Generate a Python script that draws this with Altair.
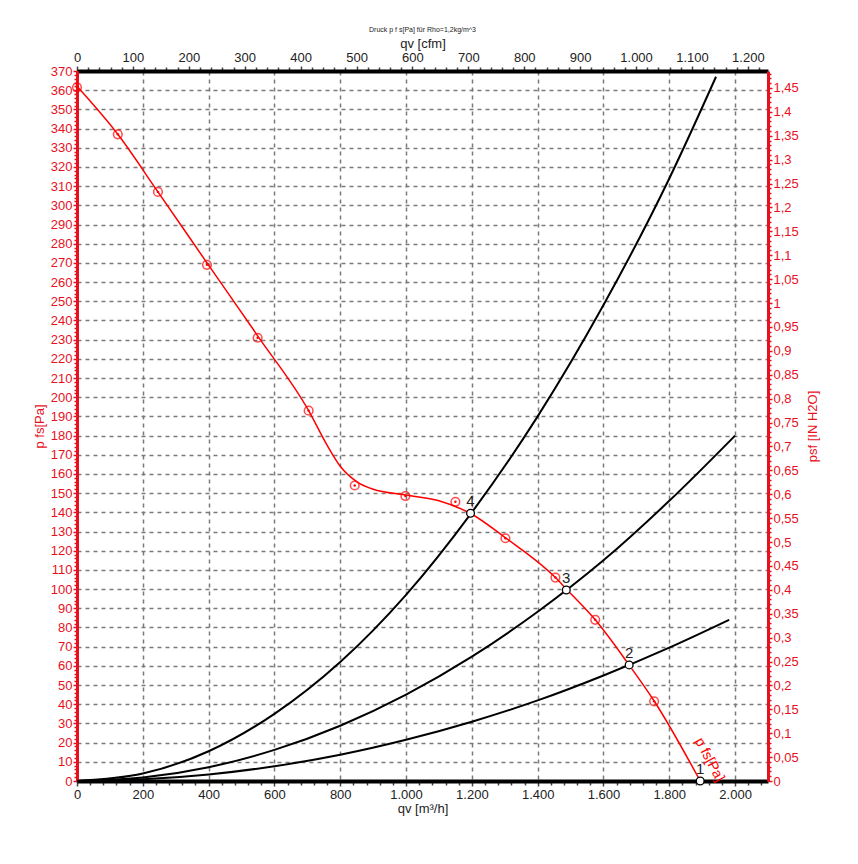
import altair as alt
import pandas as pd

FONT = "Liberation Sans"
RED = "#e8101e"
LINE_RED = "#ff0000"

# ---- data ----
X_MAX = 2100          # m3/h
Y_MAX = 370           # Pa
M3H_PER_CFM = 1.699
PA_PER_INH2O = 249.09

# fan curve (smooth line)
fan_x = [0, 124, 246, 395, 549, 704, 760, 800, 850, 900, 1000, 1100, 1200, 1300, 1454, 1490, 1575, 1678, 1754, 1894]
fan_y = [362, 337, 307, 270, 232, 193, 175, 164, 156, 152, 149, 146, 139, 127, 106, 99.5, 84, 60.4, 41.7, 0]

# measured points (red markers)
meas_x = [0, 124, 246, 395, 549, 704, 844, 998, 1150, 1302, 1454, 1575, 1754]
meas_y = [361.5, 337, 307, 269, 231, 193, 154, 148.5, 145.5, 126.5, 106, 84, 41.5]

# system curves
sys4_x = [0, 200, 400, 600, 800, 1000, 1200, 1400, 1600, 1800, 1942]
sys4_y = [0, 3.9, 15.5, 35, 62, 97, 140, 190, 248, 314, 367]
sys3_x = [0, 200, 400, 600, 800, 1000, 1200, 1400, 1600, 1800, 2000]
sys3_y = [0, 1.8, 7.2, 16.2, 28.8, 45, 64.8, 88.2, 115, 146, 180]
sys2_x = [0, 200, 400, 600, 800, 1000, 1200, 1400, 1600, 1800, 1982]
sys2_y = [0, 0.86, 3.4, 7.7, 13.7, 21.5, 30.9, 42, 55, 69.5, 84]

# operating points
op_x = [1894, 1678, 1487, 1196]
op_y = [0, 60.5, 99.5, 139.5]
op_lab = ["1", "2", "3", "4"]

curve_label = "p  fs[Pa]"
curve_label_x = [1922]
curve_label_y = [11]

# axis tick values
x_ticks = list(range(0, 2081, 40))
y_ticks = list(range(0, 371, 2))
cfm_ticks = list(range(0, 1221, 20))
inh2o_ticks = [round(i * 0.01, 2) for i in range(0, 149)]

# ---- tables ----
fan_df = pd.DataFrame({"q": fan_x, "p": fan_y})
meas_df = pd.DataFrame({"q": meas_x, "p": meas_y})
sys_df = pd.concat([
    pd.DataFrame({"q": sys4_x, "p": sys4_y, "s": "4"}),
    pd.DataFrame({"q": sys3_x, "p": sys3_y, "s": "3"}),
    pd.DataFrame({"q": sys2_x, "p": sys2_y, "s": "2"}),
])
op_df = pd.DataFrame({"q": op_x, "p": op_y, "lab": op_lab})
lab_df = pd.DataFrame({"q": curve_label_x, "p": curve_label_y, "t": [curve_label]})

xs = alt.Scale(domain=[0, X_MAX], nice=False, zero=False)
ys = alt.Scale(domain=[0, Y_MAX], nice=False, zero=False)

x_axis = alt.Axis(
    values=x_ticks, orient="bottom", title="qv [m³/h]",
    labelExpr="datum.value % 200 === 0 ? replace(format(datum.value, ','), ',', '.') : ''",
    labelOverlap=False, labelFlush=False, labelFont=FONT, labelFontSize=13, labelColor="#222",
    labelPadding=2,
    titleFont=FONT, titleFontSize=13, titleFontWeight="normal", titleColor="#222", titlePadding=1,
    domainColor="black", domainWidth=4, tickColor="#444", tickWidth=1.5,
    tickSize={"condition": {"test": "datum.value % 200 === 0", "value": 5}, "value": 4},
    grid=True, gridColor="#7a7a7a", gridDash=[4, 4], gridWidth=1.5,
    gridOpacity={"condition": {"test": "datum.value % 200 === 0 && datum.value > 0", "value": 1}, "value": 0},
)
y_axis = alt.Axis(
    values=y_ticks, orient="left", title="p  fs[Pa]",
    labelExpr="datum.value % 10 === 0 ? datum.label : ''",
    labelOverlap=False, labelFont=FONT, labelFontSize=13, labelColor=RED, labelPadding=1,
    titleFont=FONT, titleFontSize=13, titleFontWeight="normal", titleColor=RED, titlePadding=4,
    domainColor=RED, domainWidth=3, tickColor=RED, tickWidth=1.5,
    tickSize={"condition": {"test": "datum.value % 10 === 0", "value": 4}, "value": 3},
    grid=True, gridColor="#7a7a7a", gridDash=[4, 4], gridWidth=1.5,
    gridOpacity={"condition": {"test": "datum.value % 10 === 0 && datum.value > 0 && datum.value < 370", "value": 1}, "value": 0},
)

X = alt.X("q:Q", scale=xs, axis=x_axis)
Y = alt.Y("p:Q", scale=ys, axis=y_axis)

sys_lines = alt.Chart(sys_df).mark_line(color="black", strokeWidth=2, interpolate="monotone").encode(
    x=X, y=Y, detail="s:N"
)

fan_line = alt.Chart(fan_df).mark_line(color=LINE_RED, strokeWidth=1.5, interpolate="monotone").encode(
    x=X, y=Y
)

meas_ring = alt.Chart(meas_df).mark_point(
    shape="circle", filled=False, color=LINE_RED, size=75, strokeWidth=1.5
).encode(x=X, y=Y)
meas_dot = alt.Chart(meas_df).mark_point(
    shape="circle", filled=True, color=LINE_RED, size=6, opacity=1
).encode(x=X, y=Y)

op_pts = alt.Chart(op_df).mark_point(
    shape="circle", filled=True, fill="white", stroke="black", strokeWidth=1.3, size=60, opacity=1
).encode(x=X, y=Y)
op_text = alt.Chart(op_df).mark_text(
    font=FONT, fontSize=15, color="#222", dy=-12
).encode(x=X, y=Y, text="lab:N")

curve_text = alt.Chart(lab_df).mark_text(
    font=FONT, fontSize=14, color=LINE_RED, angle=62
).encode(x=X, y=Y, text="t:N")

main = alt.layer(sys_lines, fan_line, meas_ring, meas_dot, op_pts, op_text, curve_text)

# secondary axes (cfm on top, inH2O on right)
sec_df = pd.DataFrame({"cfm": [0, X_MAX / M3H_PER_CFM], "inh2o": [0, Y_MAX / PA_PER_INH2O]})
top_axis = alt.Axis(
    values=cfm_ticks, orient="top", title="qv [cfm]",
    labelExpr="datum.value % 100 === 0 ? replace(format(datum.value, ','), ',', '.') : ''",
    labelOverlap=False, labelFlush=False, labelFont=FONT, labelFontSize=13, labelColor="#222",
    labelPadding=2,
    titleFont=FONT, titleFontSize=13, titleFontWeight="normal", titleColor="#222", titlePadding=1,
    domainColor="black", domainWidth=4, tickColor="#444", tickWidth=1.5,
    tickSize={"condition": {"test": "datum.value % 100 === 0", "value": 5}, "value": 4},
    grid=False,
)
right_axis = alt.Axis(
    values=inh2o_ticks, orient="right", title="psf [IN H2O]", titleAngle=270,
    labelExpr="round(datum.value * 100) % 5 === 0 ? replace(format(datum.value, '.2~f'), '.', ',') : ''",
    labelOverlap=False, labelFlush=False, labelFont=FONT, labelFontSize=13, labelColor=RED, labelPadding=1,
    titleFont=FONT, titleFontSize=13, titleFontWeight="normal", titleColor=RED, titlePadding=21,
    domainColor=RED, domainWidth=3, tickColor=RED, tickWidth=1.5,
    tickSize={"condition": {"test": "round(datum.value * 100) % 5 === 0", "value": 4}, "value": 3},
    grid=False,
)
secondary = alt.Chart(sec_df).mark_point(opacity=0).encode(
    x=alt.X("cfm:Q", scale=alt.Scale(domain=[0, X_MAX / M3H_PER_CFM], nice=False, zero=False), axis=top_axis),
    y=alt.Y("inh2o:Q", scale=alt.Scale(domain=[0, Y_MAX / PA_PER_INH2O], nice=False, zero=False), axis=right_axis),
)

chart = alt.layer(main, secondary).resolve_scale(
    x="independent", y="independent"
).properties(
    width=691, height=710,
    title=alt.TitleParams(
        "Druck p f s[Pa] für Rho=1,2kg/m^3", font=FONT, fontSize=7, fontWeight="normal",
        color="#222", anchor="middle", offset=4
    ),
    autosize=alt.AutoSizeParams(type="none"),
    padding={"left": 77, "top": 71, "right": 90, "bottom": 83},
).configure_view(stroke=None).configure(background="white")

chart.save("out.html", embed_options={"renderer": "svg", "actions": False})
